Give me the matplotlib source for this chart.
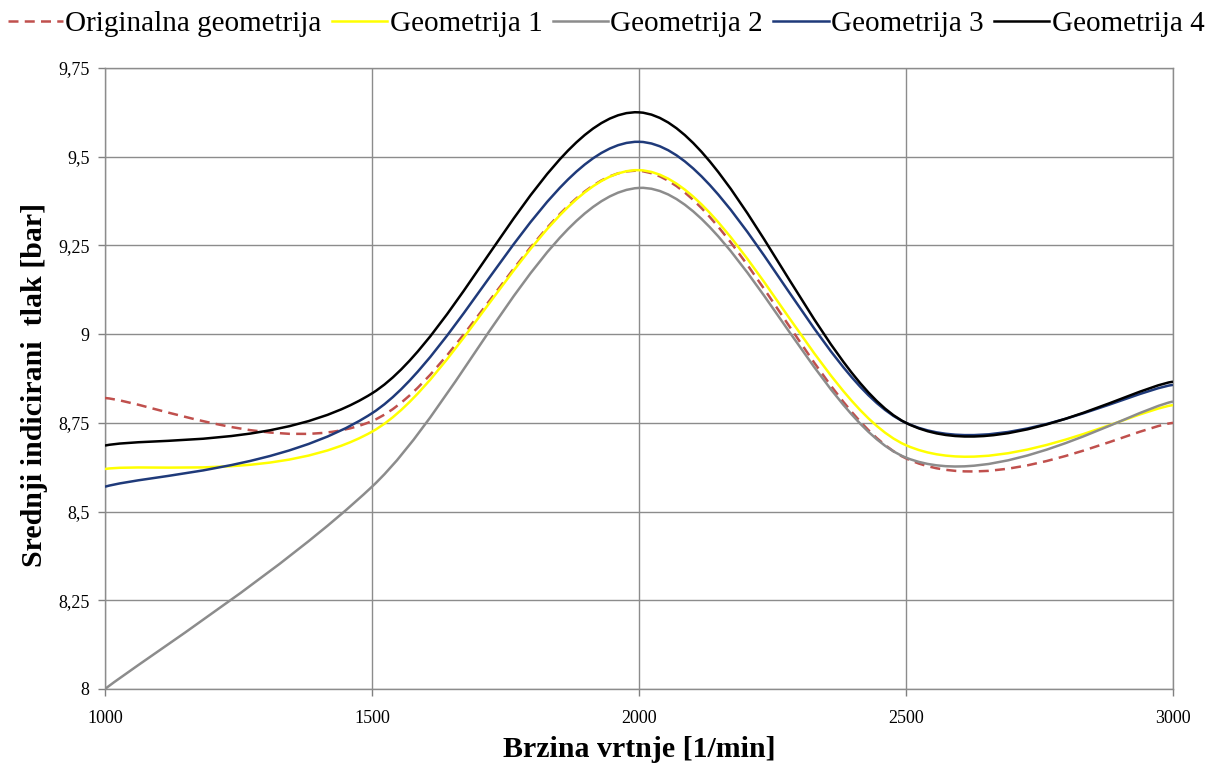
import numpy as np
import matplotlib
matplotlib.use("Agg")
import matplotlib.pyplot as plt
from matplotlib.path import Path
from matplotlib.patches import PathPatch
from matplotlib.lines import Line2D

# Data
speed = [1000, 1500, 2000, 2500, 3000]
original = [8.82, 8.755, 9.46, 8.65, 8.75]
geom1 = [8.62, 8.725, 9.462, 8.687, 8.80]
geom2 = [8.00, 8.57, 9.412, 8.652, 8.81]
geom3 = [8.57, 8.777, 9.542, 8.75, 8.857]
geom4 = [8.686, 8.833, 9.625, 8.75, 8.866]

series_names = ["Originalna geometrija", "Geometrija 1", "Geometrija 2",
                "Geometrija 3", "Geometrija 4"]
yticks = [8, 8.25, 8.5, 8.75, 9, 9.25, 9.5, 9.75]
ytick_labels = ["8", "8,25", "8,5", "8,75", "9", "9,25", "9,5", "9,75"]
xticks = [1000, 1500, 2000, 2500, 3000]

plt.rcParams['font.family'] = ['Liberation Serif', 'DejaVu Serif']


# Excel-like smoothed line: cubic Bezier through the points
def smooth_path(x, y):
    pts = np.column_stack([x, y]).astype(float)
    n = len(pts)
    verts = [pts[0]]
    codes = [Path.MOVETO]
    for i in range(n - 1):
        p_prev = pts[max(i - 1, 0)]
        p0 = pts[i]
        p1 = pts[i + 1]
        p_next = pts[min(i + 2, n - 1)]
        c1 = p0 + (p1 - p_prev) / 6.0
        c2 = p1 - (p_next - p0) / 6.0
        verts += [c1, c2, p1]
        codes += [Path.CURVE4] * 3
    return Path(verts, codes)


fig = plt.figure(figsize=(12.12, 7.64), dpi=100)
ax = fig.add_axes([0.0866, 0.0982, 0.8812, 0.8128])

styles = [
    dict(color="#C0504D", linestyle=(0, (4, 2.5))),
    dict(color="#FFFF00", linestyle="-"),
    dict(color="#8C8C8C", linestyle="-"),
    dict(color="#1F3A7A", linestyle="-"),
    dict(color="#000000", linestyle="-"),
]
data = [original, geom1, geom2, geom3, geom4]
lw = 1.8

handles = []
for vals, st, name in zip(data, styles, series_names):
    patch = PathPatch(smooth_path(speed, vals), fill=False, lw=lw,
                      edgecolor=st["color"], linestyle=st["linestyle"],
                      capstyle="butt", zorder=3)
    ax.add_patch(patch)
    handles.append(Line2D([], [], color=st["color"], lw=lw,
                          linestyle=st["linestyle"], label=name))

ax.set_xlim(1000, 3000)
ax.set_ylim(8, 9.75)
ax.set_xticks(xticks)
ax.set_yticks(yticks)
ax.set_yticklabels(ytick_labels)
ax.tick_params(axis="both", labelsize=13, colors="#808080", length=5,
               width=1, labelcolor="black", pad=6)
ax.tick_params(axis="x", pad=10)
ax.grid(True, color="#8C8C8C", lw=1)
for sp in ax.spines.values():
    sp.set_color("#8C8C8C")
    sp.set_linewidth(1)

ax.set_xlabel("Brzina vrtnje [1/min]", fontsize=21.5, fontweight="bold")
ax.set_ylabel("Srednji indicirani  tlak [bar]", fontsize=21.5,
              fontweight="bold")
ax.xaxis.set_label_coords(0.5, -0.075)
ax.yaxis.set_label_coords(-0.053, 0.49)

fig.legend(handles=handles, loc="upper center", bbox_to_anchor=(0.5, 1.02),
           ncol=5, frameon=False, fontsize=21, handlelength=1.9,
           handletextpad=0.08, columnspacing=0.35)

fig.savefig("out.png", dpi=100)
